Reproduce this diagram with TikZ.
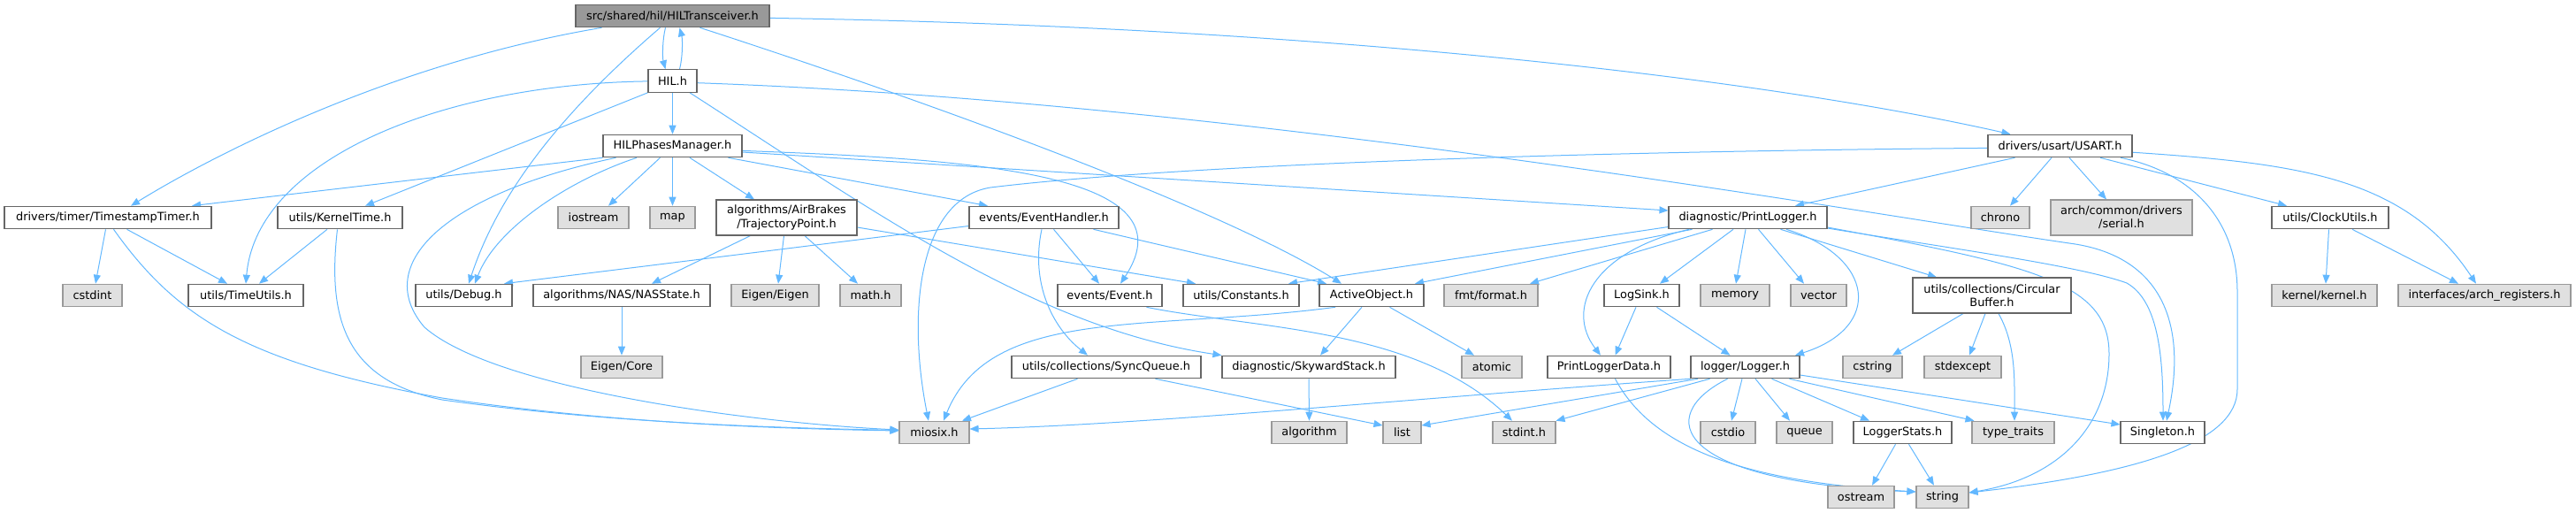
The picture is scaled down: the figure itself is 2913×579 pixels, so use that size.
\documentclass[tikz,border=0pt]{standalone}
\usepackage{fontspec}
\setmainfont{DejaVu Sans}
\usetikzlibrary{arrows.meta}
\definecolor{edgec}{HTML}{63B8FF}
\definecolor{bord}{HTML}{666666}
\definecolor{extb}{HTML}{999999}
\definecolor{extf}{HTML}{E0E0E0}
\definecolor{rootf}{HTML}{999999}
\newcommand\dfont{\fontsize{12.9pt}{15.2pt}\selectfont}
\pgfdeclarelayer{bg}
\pgfsetlayers{bg,main}
\begin{document}
\begin{tikzpicture}[x=1pt,y=-1pt,
 nd/.style={draw=bord, fill=white, line width=1.1pt, minimum height=25.5pt, inner sep=0pt, font=\dfont, align=center},
 ext/.style={nd, draw=extb, fill=extf},
 root/.style={nd, fill=rootf},
 tall/.style={minimum height=40pt},
 lnk/.style={draw=edgec, line width=1pt, -{Triangle[length=10pt,width=8pt]}}]
\useasboundingbox (0,0) rectangle (2913,579);
\node[root, minimum width=219pt] (hilt) at (760.5,18) {src/shared/hil/HILTransceiver.h};
\node[nd, minimum width=55pt] (hil) at (760.5,91.5) {HIL.h};
\node[nd, minimum width=157pt] (hpm) at (760.5,165) {HILPhasesManager.h};
\node[nd, minimum width=163pt] (usart) at (2329.5,165) {drivers/usart/USART.h};
\node[nd, minimum width=234pt] (tst) at (122,246) {drivers/timer/TimestampTimer.h};
\node[nd, minimum width=141pt] (kt) at (384.5,246) {utils/KernelTime.h};
\node[ext, minimum width=80pt] (iostream) at (671,246) {iostream};
\node[ext, minimum width=51pt] (map) at (760.5,246) {map};
\node[nd, tall, minimum width=159pt] (ab) at (889.5,246) {algorithms/AirBrakes\\/TrajectoryPoint.h};
\node[nd, minimum width=169pt] (eh) at (1180.5,246) {events/EventHandler.h};
\node[nd, minimum width=179pt] (pl) at (1976.5,246) {diagnostic/PrintLogger.h};
\node[ext, minimum width=66pt] (chrono) at (2262,246) {chrono};
\node[ext, tall, minimum width=160pt] (serial) at (2399,246) {arch/common/drivers\\/serial.h};
\node[nd, minimum width=132pt] (cu) at (2635,246) {utils/ClockUtils.h};
\node[ext, minimum width=67pt] (cstdint) at (104.5,334) {cstdint};
\node[nd, minimum width=130pt] (tu) at (278,334) {utils/TimeUtils.h};
\node[nd, minimum width=109pt] (dbg) at (524.5,334) {utils/Debug.h};
\node[nd, minimum width=200pt] (nas) at (703,334) {algorithms/NAS/NASState.h};
\node[ext, minimum width=99pt] (eigen) at (876.5,334) {Eigen/Eigen};
\node[ext, minimum width=69pt] (math) at (984.5,334) {math.h};
\node[nd, minimum width=118pt] (ev) at (1255,334) {events/Event.h};
\node[nd, minimum width=131pt] (const) at (1403.5,334) {utils/Constants.h};
\node[nd, minimum width=118pt] (ao) at (1551,334) {ActiveObject.h};
\node[ext, minimum width=106pt] (fmt) at (1686,334) {fmt/format.h};
\node[nd, minimum width=85pt] (ls) at (1856.5,334) {LogSink.h};
\node[ext, minimum width=78pt] (memory) at (1962,334) {memory};
\node[ext, minimum width=63pt] (vector) at (2056.5,334) {vector};
\node[nd, tall, minimum width=179pt] (cb) at (2252.5,334) {utils/collections/Circular\\Buffer.h};
\node[ext, minimum width=119pt] (kernel) at (2628.5,334) {kernel/kernel.h};
\node[ext, minimum width=195pt] (archreg) at (2809.5,334) {interfaces/arch\_registers.h};
\node[ext, minimum width=92pt] (core) at (703,415) {Eigen/Core};
\node[nd, minimum width=214pt] (sq) at (1251,415) {utils/collections/SyncQueue.h};
\node[nd, minimum width=196pt] (ss) at (1480,415) {diagnostic/SkywardStack.h};
\node[ext, minimum width=68pt] (atomic) at (1687,415) {atomic};
\node[nd, minimum width=139pt] (pld) at (1819.5,415) {PrintLoggerData.h};
\node[nd, minimum width=123pt] (logger) at (1973.5,415) {logger/Logger.h};
\node[ext, minimum width=67pt] (cstring) at (2117.5,415) {cstring};
\node[ext, minimum width=87pt] (stdexcept) at (2219.5,415) {stdexcept};
\node[ext, minimum width=79pt] (miosix) at (1056.5,489) {miosix.h};
\node[ext, minimum width=85pt] (algorithm) at (1480.5,489) {algorithm};
\node[ext, minimum width=43pt] (list) at (1585.5,489) {list};
\node[ext, minimum width=71pt] (stdint) at (1723.5,489) {stdint.h};
\node[ext, minimum width=62pt] (cstdio) at (1954,489) {cstdio};
\node[ext, minimum width=63pt] (queue) at (2040.5,489) {queue};
\node[nd, minimum width=111pt] (lstats) at (2151.5,489) {LoggerStats.h};
\node[ext, minimum width=93pt] (tt) at (2276.5,489) {type\_traits};
\node[nd, minimum width=95pt] (single) at (2445.5,489) {Singleton.h};
\node[ext, minimum width=75pt] (ostream) at (2104.5,562) {ostream};
\node[ext, minimum width=59pt] (string) at (2196.5,562) {string};
\begin{pgfonlayer}{bg}
% HILTransceiver
\draw[lnk] ([xshift=-80pt]hilt.south) .. controls (450,70) and (250,170) .. ([xshift=26pt]tst.north);
\draw[lnk] ([xshift=-8pt]hilt.south) .. controls (749,45) and (749,65) .. ([xshift=-8pt]hil.north);
\draw[lnk] ([xshift=8pt]hil.north) .. controls (772,65) and (772,45) .. ([xshift=8pt]hilt.south);
\draw[lnk] ([xshift=-14pt]hilt.south) .. controls (620,140) and (560,230) .. ([xshift=5.5pt]dbg.north);
\draw[lnk] ([xshift=31pt]hilt.south) .. controls (1050,115) and (1380,235) .. ([xshift=-34pt]ao.north);
\draw[lnk] ([yshift=-2.4pt]hilt.east) .. controls (1500,30) and (2000,90) .. ([xshift=-56pt]usart.north);
% HIL
\draw[lnk] (hil.south) -- (hpm.north);
\draw[lnk] ([yshift=-0.4pt]hil.west) .. controls (500,95) and (290,180) .. (tu.north);
\draw[lnk] (hil.south west) -- ([xshift=28.5pt]kt.north);
\draw[lnk] ([xshift=19.5pt]hil.south) .. controls (990,240) and (1170,370) .. (ss.north west);
\draw[lnk] ([yshift=-2.2pt]hil.east) .. controls (1400,115) and (2100,240) .. (2340,275) .. controls (2440,288) and (2475,360) .. ([xshift=4.5pt]single.north);
% HILPhasesManager
\draw[lnk] (hpm.south west) -- ([xshift=95pt]tst.north);
\draw[lnk] ([xshift=-40.5pt]hpm.south) .. controls (640,205) and (560,260) .. ([xshift=12.5pt]dbg.north);
\draw[lnk] ([xshift=-64pt]hpm.south) .. controls (500,220) and (420,300) .. (480,370) .. controls (560,440) and (850,478) .. ([yshift=3pt]miosix.west);
\draw[lnk] ([xshift=-14pt]hpm.south) -- ([xshift=17pt]iostream.north);
\draw[lnk] (hpm.south) -- (map.north);
\draw[lnk] ([xshift=19.5pt]hpm.south) -- ([xshift=-36.5pt]ab.north);
\draw[lnk] ([xshift=63pt]hpm.south) -- ([xshift=-63.5pt]eh.north);
\draw[lnk] ([yshift=-5.4pt]hpm.east) .. controls (1100,180) and (1350,195) .. ([xshift=12pt]ev.north);
\draw[lnk] ([yshift=-7pt]hpm.east) -- ([yshift=8pt]pl.west);
% AirBrakes, NAS
\draw[lnk] ([xshift=-41pt]ab.south) -- ([xshift=34pt]nas.north);
\draw[lnk] ([xshift=-3pt]ab.south) -- ([xshift=3.5pt]eigen.north);
\draw[lnk] ([xshift=20.5pt]ab.south) -- ([xshift=-14.5pt]math.north);
\draw[lnk] ([yshift=-11pt]ab.east) -- ([xshift=-51.5pt]const.north);
\draw[lnk] (nas.south) -- (core.north);
% EventHandler, Event
\draw[lnk] ([yshift=-9.5pt]eh.west) -- ([xshift=45.5pt]dbg.north);
\draw[lnk] ([xshift=11pt]eh.south) -- ([xshift=-12pt]ev.north);
\draw[lnk] ([xshift=-2.5pt]eh.south) .. controls (1165,320) and (1190,370) .. ([xshift=-21pt]sq.north);
\draw[lnk] ([xshift=56pt]eh.south) -- ([xshift=-51pt]ao.north);
\draw[lnk] ([xshift=41.5pt]ev.south) .. controls (1420,372) and (1600,370) .. ([xshift=-13.5pt]stdint.north);
% ActiveObject, SkywardStack, SyncQueue
\draw[lnk] ([xshift=-41pt]ao.south) .. controls (1300,375) and (1120,345) .. ([xshift=10.5pt]miosix.north);
\draw[lnk] ([xshift=-11pt]ao.south) -- ([xshift=13pt]ss.north);
\draw[lnk] ([xshift=20.5pt]ao.south) -- ([xshift=-20pt]atomic.north);
\draw[lnk] (ss.south) -- (algorithm.north);
\draw[lnk] ([xshift=-32.5pt]sq.south) -- ([xshift=31.5pt]miosix.north);
\draw[lnk] ([xshift=55.5pt]sq.south) -- ([yshift=8pt]list.west);
% Logger
\draw[lnk] (logger.south west) .. controls (1600,450) and (1300,480) .. ([yshift=4pt]miosix.east);
\draw[lnk] ([xshift=-53.5pt]logger.south) -- ([yshift=8pt]list.east);
\draw[lnk] ([xshift=-40pt]logger.south) -- (stdint.north east);
\draw[lnk] ([xshift=-20pt]logger.south) .. controls (1870,470) and (1890,545) .. ([yshift=6pt]string.west);
\draw[lnk] ([xshift=7pt]pld.south) .. controls (1870,510) and (1980,545) .. ([yshift=6pt]string.west);
\draw[lnk] ([xshift=-3.5pt]logger.south) -- ([xshift=4pt]cstdio.north);
\draw[lnk] ([xshift=11.5pt]logger.south) -- ([xshift=-16.5pt]queue.north);
\draw[lnk] ([xshift=30pt]logger.south) -- ([xshift=-37.5pt]lstats.north);
\draw[lnk] ([xshift=50pt]logger.south) -- ([xshift=-44pt]tt.north);
\draw[lnk] ([yshift=-9pt]logger.east) -- ([yshift=9pt]single.west);
\draw[lnk] ([xshift=-8pt]lstats.south) -- ([xshift=12.5pt]ostream.north);
\draw[lnk] ([xshift=7pt]lstats.south) -- ([xshift=-9.5pt]string.north);
% CircularBuffer
\draw[lnk] ([xshift=-32.5pt]cb.south) -- ([xshift=22.5pt]cstring.north);
\draw[lnk] ([xshift=-7.5pt]cb.south) -- ([xshift=7.5pt]stdexcept.north);
\draw[lnk] ([xshift=7.5pt]cb.south) .. controls (2280,390) and (2278,430) .. ([xshift=1.5pt]tt.north);
% PrintLogger
\draw[lnk] ([yshift=-10.5pt]pl.west) -- ([xshift=53.5pt]const.north);
\draw[lnk] ([xshift=-63pt]pl.south) -- ([xshift=49pt]ao.north);
\draw[lnk] ([xshift=-40pt]pl.south) -- ([xshift=44pt]fmt.north);
\draw[lnk] ([xshift=-66.5pt]pl.south) .. controls (1800,285) and (1770,350) .. ([xshift=-9.5pt]pld.north);
\draw[lnk] ([xshift=-16.5pt]pl.south) -- ([xshift=20.5pt]ls.north);
\draw[lnk] ([xshift=-2.5pt]pl.south) -- ([xshift=1pt]memory.north);
\draw[lnk] ([xshift=12pt]pl.south) -- ([xshift=-16.5pt]vector.north);
\draw[lnk] ([xshift=43.5pt]pl.south) .. controls (2120,290) and (2130,370) .. ([xshift=56.5pt]logger.north);
\draw[lnk] ([xshift=37pt]pl.south) -- ([xshift=-62.5pt]cb.north);
\draw[lnk] ([yshift=-11pt]pl.east) .. controls (2300,300) and (2385,320) .. (2385,400) .. controls (2385,480) and (2330,540) .. ([yshift=5pt]string.east);
\draw[lnk] ([yshift=-12pt]pl.east) .. controls (2200,280) and (2350,300) .. (2405,320) .. controls (2440,340) and (2446,400) .. ([xshift=0.5pt]single.north);
% LogSink
\draw[lnk] ([xshift=-6.5pt]ls.south) -- ([xshift=7pt]pld.north);
\draw[lnk] ([xshift=17pt]ls.south) -- ([xshift=-17pt]logger.north);
% USART
\draw[lnk] ([xshift=-51pt]usart.south) -- ([xshift=53.5pt]pl.north);
\draw[lnk] ([xshift=-9.5pt]usart.south) -- ([xshift=11pt]chrono.north);
\draw[lnk] ([xshift=10.5pt]usart.south) -- ([xshift=-17pt]serial.north);
\draw[lnk] ([xshift=45.5pt]usart.south) -- ([xshift=-49pt]cu.north);
\draw[lnk] ([yshift=-7.2pt]usart.east) .. controls (2600,185) and (2720,200) .. ([xshift=-9.5pt]archreg.north);
\draw[lnk] ([xshift=68.5pt]usart.south) .. controls (2480,195) and (2530,250) .. (2530,330) -- (2530,440) .. controls (2530,500) and (2420,535) .. ([yshift=5pt]string.east);
\draw[lnk] ([yshift=-2.4pt]usart.west) .. controls (1700,172) and (1300,190) .. (1120,212) .. controls (1040,225) and (1025,350) .. ([xshift=-6.5pt]miosix.north);
% ClockUtils
\draw[lnk] ([xshift=-1.5pt]cu.south) -- ([xshift=1.5pt]kernel.north);
\draw[lnk] ([xshift=25pt]cu.south) -- ([xshift=-29.5pt]archreg.north);
% TimestampTimer, KernelTime
\draw[lnk] ([xshift=-2.5pt]tst.south) -- ([xshift=3.5pt]cstdint.north);
\draw[lnk] ([xshift=21.5pt]tst.south) -- ([xshift=-21pt]tu.north);
\draw[lnk] ([xshift=6.5pt]tst.south) .. controls (200,360) and (280,410) .. (500,450) .. controls (700,480) and (900,485) .. ([yshift=2pt]miosix.west);
\draw[lnk] ([xshift=-14.5pt]kt.south) -- ([xshift=15pt]tu.north);
\draw[lnk] ([xshift=-3pt]kt.south) .. controls (370,360) and (390,430) .. (500,452) .. controls (700,480) and (900,484) .. ([yshift=2.5pt]miosix.west);
\end{pgfonlayer}
\end{tikzpicture}
\end{document}
